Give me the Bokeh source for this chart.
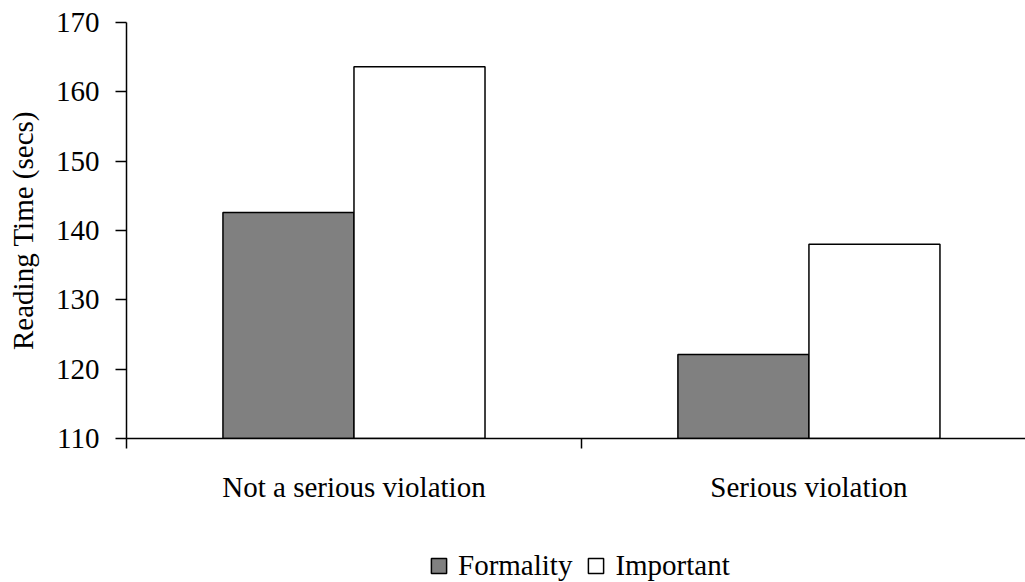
from bokeh.plotting import figure
from bokeh.models import Range1d, FixedTicker, Legend, LegendItem
from bokeh.layouts import column
from bokeh.embed import file_html
from bokeh.resources import INLINE

categories = ["Not a serious violation", "Serious violation"]
formality = [142.6, 122.1]
important = [163.6, 138.0]
y_ticks = [110, 120, 130, 140, 150, 160, 170]
series_names = ["Formality", "Important"]

FONT = "Liberation Serif"
FS = "29px"
cat_pos = [i + 0.5 for i in range(len(categories))]
bar_w = 0.288
GRAY = "#808080"


def style_fig(f):
    f.outline_line_color = None
    f.xgrid.grid_line_color = None
    f.ygrid.grid_line_color = None
    f.background_fill_color = "white"
    f.border_fill_color = "white"


p = figure(width=1025, height=510, x_range=Range1d(0, 1.976), y_range=Range1d(110, 170),
           output_backend="svg", toolbar_location=None,
           min_border_left=126, min_border_top=22, min_border_right=0, min_border_bottom=72)
style_fig(p)

p.vbar(x=[c - bar_w / 2 for c in cat_pos], top=formality, bottom=110, width=bar_w,
       fill_color=GRAY, line_color="black", line_width=1.5)
p.vbar(x=[c + bar_w / 2 for c in cat_pos], top=important, bottom=110, width=bar_w,
       fill_color="white", line_color="black", line_width=1.5)

# y axis
ya = p.yaxis[0]
ya.ticker = FixedTicker(ticks=y_ticks)
ya.minor_tick_line_color = None
ya.major_tick_out = 11
ya.major_tick_in = 0
ya.major_tick_line_width = 1.5
ya.axis_line_width = 1.5
ya.major_label_text_font = FONT
ya.major_label_text_font_size = FS
ya.major_label_text_color = "black"
ya.major_label_standoff = 16
ya.axis_label = "Reading Time (secs)"
ya.axis_label_text_font = FONT
ya.axis_label_text_font_size = FS
ya.axis_label_text_font_style = "normal"
ya.axis_label_text_color = "black"
ya.axis_label_standoff = 14

# x axis
xa = p.xaxis[0]
xa.ticker = FixedTicker(ticks=cat_pos, minor_ticks=[0, 1, 2])
xa.major_label_overrides = {cat_pos[i]: categories[i] for i in range(len(categories))}
xa.major_tick_out = 0
xa.major_tick_in = 0
xa.minor_tick_out = 10
xa.minor_tick_in = 0
xa.minor_tick_line_width = 1.5
xa.minor_tick_line_color = "black"
xa.axis_line_width = 1.5
xa.major_label_text_font = FONT
xa.major_label_text_font_size = FS
xa.major_label_text_color = "black"
xa.major_label_standoff = 22

# legend strip below the chart (same series as hidden renderers, used only for the legend)
lg = figure(width=1025, height=72, x_range=Range1d(0, 1.976), y_range=Range1d(110, 170),
            output_backend="svg", toolbar_location=None, x_axis_type=None, y_axis_type=None,
            min_border_left=0, min_border_top=0, min_border_right=0, min_border_bottom=0)
style_fig(lg)
l1 = lg.vbar(x=[c - bar_w / 2 for c in cat_pos], top=formality, bottom=110, width=bar_w,
             fill_color=GRAY, line_color="black", line_width=1.5, visible=False)
l2 = lg.vbar(x=[c + bar_w / 2 for c in cat_pos], top=important, bottom=110, width=bar_w,
             fill_color="white", line_color="black", line_width=1.5, visible=False)

legend = Legend(items=[LegendItem(label=series_names[0], renderers=[l1]),
                       LegendItem(label=series_names[1], renderers=[l2])],
                orientation="horizontal", location=(303, 0),
                label_text_font=FONT, label_text_font_size=FS, label_text_color="black",
                glyph_width=19, glyph_height=19, spacing=14, label_standoff=10,
                inactive_fill_alpha=0,
                border_line_color=None, background_fill_alpha=0, margin=0, padding=0)
lg.add_layout(legend, "center")

layout = column(p, lg, spacing=0)
open("out.html", "w").write(file_html(layout, INLINE))
